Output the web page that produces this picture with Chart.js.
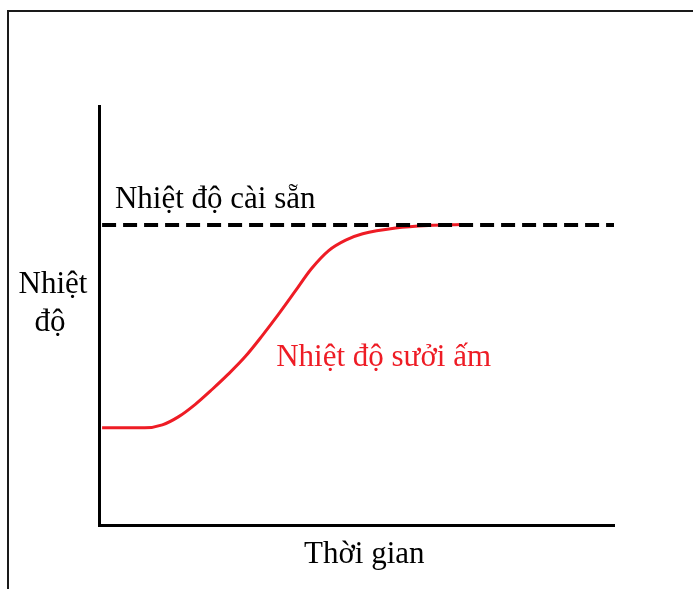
<!DOCTYPE html>
<html>
<head>
<meta charset="utf-8">
<script src="https://cdn.jsdelivr.net/npm/chart.js@4.4.1/dist/chart.umd.min.js"></script>
<style>
    html, body { margin: 0; padding: 0; background: #fff; }
    #wrap { position: relative; width: 693px; height: 589px; overflow: hidden; }
    #frame {
        position: absolute; left: 7px; top: 10px; width: 720px; height: 620px;
        border-left: 2px solid #1a1a1a; border-top: 2px solid #1a1a1a;
    }
    canvas { position: absolute; left: 0; top: 0; }
</style>
</head>
<body>
<div id="wrap">
    <div id="frame"></div>
    <canvas id="chart" width="693" height="589"></canvas>
</div>
<script>
// Heating curve (time 0-100, temperature 0-100)
const timePoints = [0.6, 8.9, 12.3, 15.4, 18.7, 22.0, 25.1, 28.4, 31.7, 34.8, 38.1, 41.2, 44.6, 47.9, 51.2, 57.6, 64.0, 70.6];
const heatingTemps = [23.2, 23.2, 23.9, 25.8, 28.8, 32.4, 36.0, 40.2, 45.2, 50.2, 55.8, 61.1, 65.5, 68.0, 69.5, 70.9, 71.5, 71.7];

// Set-point line
const setpointTimes = [0.6, 100];
const setpointTemp = 71.6;

const setpointLabel = 'Nhiệt độ cài sẵn';
const heatingLabel = 'Nhiệt độ sưởi ấm';
const xAxisLabel = 'Thời gian';
const yAxisLabel = ['Nhiệt', 'độ'];

const FONT = '"Liberation Serif", "DejaVu Serif", serif';

// Draws the free text labels on top of the chart
const textLabels = {
    id: 'textLabels',
    afterDraw(chart) {
        const ctx = chart.ctx;
        const x = chart.scales.x;
        const y = chart.scales.y;
        ctx.save();
        ctx.font = '31px ' + FONT;
        ctx.textBaseline = 'alphabetic';

        ctx.fillStyle = '#000';
        ctx.textAlign = 'left';
        ctx.fillText(setpointLabel, x.getPixelForValue(3.1), y.getPixelForValue(75.6));

        ctx.fillStyle = '#ee1c25';
        ctx.fillText(heatingLabel, x.getPixelForValue(34.4), y.getPixelForValue(38.0));

        ctx.fillStyle = '#000';
        ctx.textAlign = 'center';
        ctx.fillText(xAxisLabel, x.getPixelForValue(51.5), 563);
        ctx.fillText(yAxisLabel[0], 53, 293);
        ctx.fillText(yAxisLabel[1], 50, 331);
        ctx.restore();
    }
};

new Chart(document.getElementById('chart'), {
    type: 'line',
    data: {
        datasets: [
            {
                label: 'setpoint',
                data: setpointTimes.map(t => ({ x: t, y: setpointTemp })),
                borderColor: '#000',
                borderWidth: 4,
                borderDash: [14, 7],
                pointRadius: 0,
                fill: false
            },
            {
                label: 'heating',
                data: timePoints.map((t, i) => ({ x: t, y: heatingTemps[i] })),
                borderColor: '#ee1c25',
                borderWidth: 3,
                cubicInterpolationMode: 'monotone',
                pointRadius: 0,
                fill: false
            }
        ]
    },
    options: {
        responsive: false,
        animation: false,
        layout: { padding: { left: 99, right: 79, top: 106, bottom: 64 } },
        plugins: {
            legend: { display: false },
            tooltip: { enabled: false }
        },
        scales: {
            x: {
                type: 'linear',
                min: 0,
                max: 100,
                ticks: { display: false },
                grid: { display: false, drawTicks: false },
                border: { display: true, color: '#000', width: 3 }
            },
            y: {
                type: 'linear',
                min: 0,
                max: 100,
                ticks: { display: false },
                grid: { display: false, drawTicks: false },
                border: { display: true, color: '#000', width: 3 }
            }
        }
    },
    plugins: [textLabels]
});
</script>
</body>
</html>
